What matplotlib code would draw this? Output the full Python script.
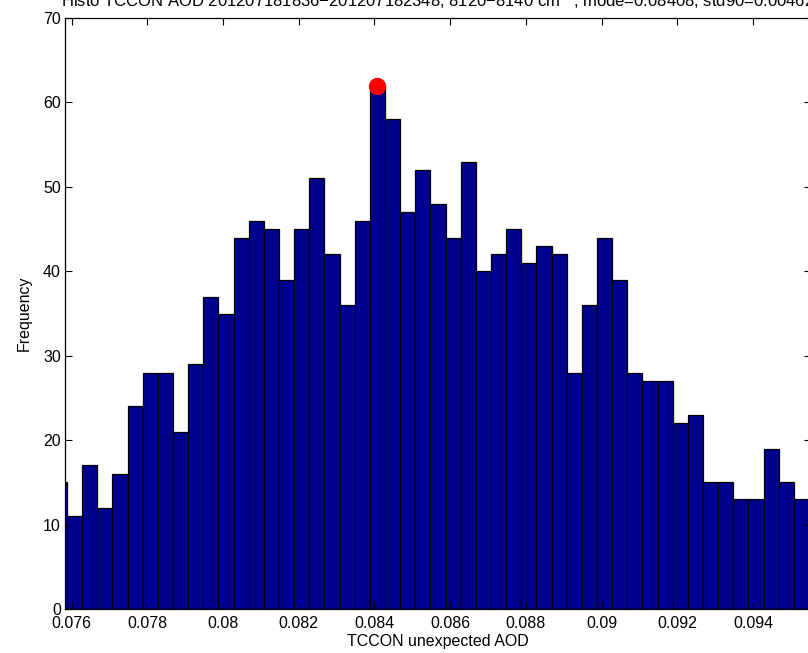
import numpy as np
import matplotlib
matplotlib.use("Agg")
import matplotlib.pyplot as plt

# histogram counts, bin width 0.0004, first bin partly hidden by the axis
bin_start = 0.07548
bin_width = 0.0004
counts = [15, 11, 17, 12, 16, 24, 28, 28, 21, 29, 37, 35, 44, 46, 45, 39, 45, 51, 42, 36,
          46, 62, 58, 47, 52, 48, 44, 53, 40, 42, 45, 41, 43, 42, 28, 36, 44, 39, 28, 27,
          27, 22, 23, 15, 15, 13, 13, 19, 15, 13]
mode_x = 0.08408
mode_y = 62
x_ticks = [0.076, 0.078, 0.08, 0.082, 0.084, 0.086, 0.088, 0.09, 0.092, 0.094]
x_tick_labels = ["0.076", "0.078", "0.08", "0.082", "0.084", "0.086", "0.088", "0.09", "0.092", "0.094"]
y_ticks = [0, 10, 20, 30, 40, 50, 60, 70]

title = ("Histo TCCON AOD 201207181836\u2212201207182348, 8120\u22128140 cm$^{-1}$, "
         "mode=0.08408, std90=0.00462")

plt.rcParams['font.family'] = ['Liberation Sans', 'DejaVu Sans']
plt.rcParams['mathtext.fontset'] = 'custom'
plt.rcParams['mathtext.rm'] = 'Liberation Sans'
fs = 11.5

fig = plt.figure(figsize=(8.08, 6.53), dpi=100)
ax = fig.add_axes([65 / 808, 44 / 653, 746 / 808, 591 / 653])

lefts = bin_start + bin_width * np.arange(len(counts))
ax.bar(lefts, counts, width=bin_width, align='edge',
       color='#00008F', edgecolor='black', linewidth=0.9)
ax.plot([mode_x], [mode_y], 'o', color='red', markersize=11.5, zorder=5)

ax.set_xlim(0.075828, 0.095532)
ax.set_ylim(0, 70)
ax.set_xticks(x_ticks)
ax.set_xticklabels(x_tick_labels)
ax.set_yticks(y_ticks)
ax.tick_params(direction='in', length=5, width=0.8, top=True, right=True,
               labelsize=fs)
ax.tick_params(axis='x', pad=5)
ax.tick_params(axis='y', pad=3)
for s in ax.spines.values():
    s.set_linewidth(0.9)

ax.set_xlabel("TCCON unexpected AOD", fontsize=fs, labelpad=2)
ax.set_ylabel("Frequency", fontsize=fs, labelpad=8)
ax.set_title(title, fontsize=12, pad=8)

fig.savefig("out.png", dpi=100)
